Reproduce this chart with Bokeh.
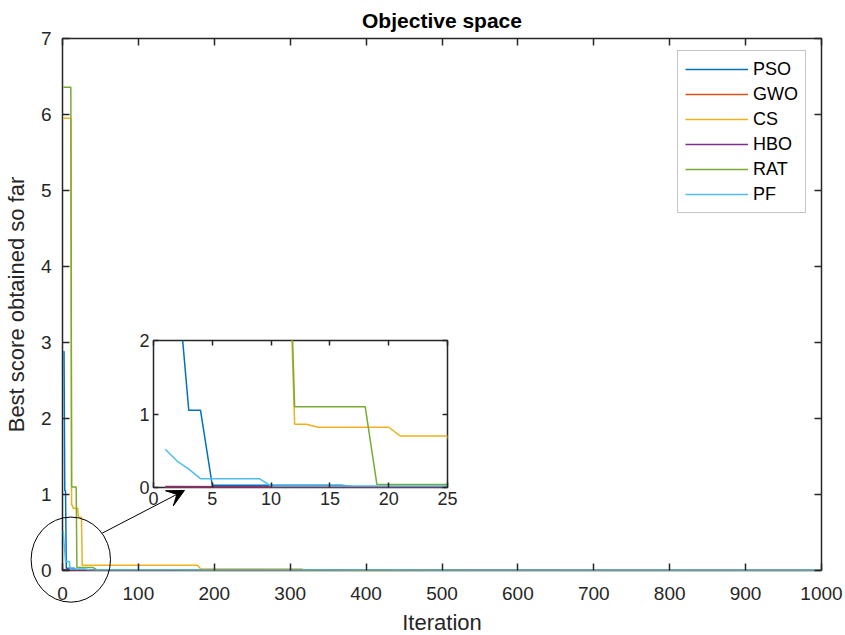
import numpy as np
from bokeh.plotting import figure
from bokeh.models import FixedTicker, LinearAxis, Legend, LegendItem, Arrow, VeeHead
from bokeh.embed import file_html
from bokeh.resources import INLINE

FONT = "Liberation Sans"
AX = "#262626"

# ---------------- data ----------------
names = ["PSO", "GWO", "CS", "HBO", "RAT", "PF"]
colors = ["#0072BD", "#D95319", "#EDB120", "#7E2F8E", "#77AC30", "#4DBEEE"]

pso_iter = [1, 2, 3, 4, 5, 16, 17, 60, 100, 1000]
pso_val = [2.88, 2.88, 1.05, 1.05, 0.03, 0.03, 0.01, 0.01, 0.003, 0.0]

gwo_iter = [1, 10, 1000]
gwo_val = [0.005, 0.003, 0.0]

cs_iter = [1, 11, 12, 13, 14, 20, 21, 25, 26, 178, 182, 315, 318, 375, 378, 1000]
cs_val = [5.95, 5.95, 0.86, 0.86, 0.82, 0.82, 0.70, 0.70, 0.07, 0.07, 0.02, 0.02, 0.01, 0.01, 0.0, 0.0]

hbo_iter = [1, 12, 1000]
hbo_val = [0.012, 0.008, 0.0]

rat_iter = [1, 11, 12, 18, 19, 40, 45, 150, 155, 1000]
rat_val = [6.36, 6.36, 1.10, 1.10, 0.04, 0.04, 0.01, 0.01, 0.004, 0.0]

pf_iter = [1, 2, 3, 4, 9, 10, 30, 35, 1000]
pf_val = [0.52, 0.36, 0.25, 0.12, 0.12, 0.02, 0.02, 0.006, 0.004]

series_iter = [pso_iter, gwo_iter, cs_iter, hbo_iter, rat_iter, pf_iter]
series_val = [pso_val, gwo_val, cs_val, hbo_val, rat_val, pf_val]

main_xticks = list(range(0, 1001, 100))
main_yticks = list(range(0, 8))
inset_xticks = [0, 5, 10, 15, 20, 25]
inset_yticks = [0, 1, 2]

# ---------------- layout constants (page pixels) ----------------
FR_W, FR_H = 759, 532
B_LEFT, B_RIGHT, B_TOP, B_BOTTOM = 61, 25, 37, 66
PAGE = 0
X0, X1, Y0, Y1 = 0, 1000, 0, 7
FR_LEFT = PAGE + B_LEFT          # screen x of frame left
FR_BOTTOM = PAGE + B_TOP + FR_H  # screen y of frame bottom
SX = FR_W / (X1 - X0)
SY = FR_H / (Y1 - Y0)


def style_axes(axes, tick_in, font_size):
    for ax in axes:
        ax.axis_line_color = None
        ax.major_tick_line_color = AX
        ax.major_tick_line_width = 1.5
        ax.major_tick_in = tick_in
        ax.major_tick_out = 0
        ax.minor_tick_line_color = None
        ax.major_label_text_font = FONT
        ax.major_label_text_font_size = font_size
        ax.major_label_text_color = AX
        ax.axis_label_text_font = FONT
        ax.axis_label_text_font_style = "normal"
        ax.axis_label_text_color = AX


def blank_axis(ax):
    ax.major_label_text_font_size = "1px"
    ax.major_label_text_color = None
    ax.major_label_standoff = 0


# ---------------- main figure ----------------
p = figure(frame_width=FR_W, frame_height=FR_H,
           min_border_left=B_LEFT, min_border_right=B_RIGHT,
           min_border_top=B_TOP, min_border_bottom=B_BOTTOM,
           x_range=(X0, X1), y_range=(Y0, Y1),
           output_backend="svg", toolbar_location=None,
           title="Objective space")
p.outline_line_color = AX
p.outline_line_width = 1.5
p.background_fill_color = "white"
p.border_fill_color = "white"
p.xgrid.visible = False
p.ygrid.visible = False

xb = p.below[0]
yl = p.left[0]
top_ax = LinearAxis()
right_ax = LinearAxis()
p.add_layout(top_ax, "above")
p.add_layout(right_ax, "right")
xb.ticker = FixedTicker(ticks=main_xticks)
top_ax.ticker = FixedTicker(ticks=main_xticks)
yl.ticker = FixedTicker(ticks=main_yticks)
right_ax.ticker = FixedTicker(ticks=main_yticks)
style_axes([xb, yl, top_ax, right_ax], 7, "19px")
blank_axis(top_ax)
blank_axis(right_ax)

xb.axis_label = "Iteration"
yl.axis_label = "Best score obtained so far"
xb.axis_label_text_font_size = "22px"
yl.axis_label_text_font_size = "22px"
xb.major_label_standoff = 16
xb.axis_label_standoff = 7
yl.major_label_standoff = 11
yl.axis_label_standoff = 9

p.title.text_font = FONT
p.title.text_font_size = "21px"
p.title.text_font_style = "bold"
p.title.text_color = "black"
p.title.align = "center"
p.title.standoff = 13

items = []
for nm, c, xi, yv in zip(names, colors, series_iter, series_val):
    r = p.line(x=xi, y=yv, line_color=c, line_width=1.5)
    items.append(LegendItem(label=nm, renderers=[r]))

legend = Legend(items=items, location=(615, 357),
                label_text_font=FONT, label_text_font_size="18px", label_text_color="black",
                glyph_width=63, glyph_height=22, label_height=22, label_standoff=5,
                spacing=3, padding=7, margin=0,
                border_line_color="#8c8c8c", border_line_width=1,
                background_fill_color="white", background_fill_alpha=1)
p.add_layout(legend, "center")

# ---------------- transparent overlay for the zoom marker (same data scale) ----------------
OV_L, OV_T, OV_W, OV_H = 20, 478, 180, 134
ov_x = ((OV_L - FR_LEFT) / SX, (OV_L + OV_W - FR_LEFT) / SX)
ov_y = ((FR_BOTTOM - (OV_T + OV_H)) / SY, (FR_BOTTOM - OV_T) / SY)
ov = figure(frame_width=OV_W, frame_height=OV_H, min_border=0,
            x_range=ov_x, y_range=ov_y,
            x_axis_location=None, y_axis_location=None,
            output_backend="svg", toolbar_location=None,
            styles={"position": "absolute", "left": f"{OV_L}px", "top": f"{OV_T}px"})
ov.outline_line_color = None
ov.background_fill_color = None
ov.border_fill_color = None
ov.xgrid.visible = False
ov.ygrid.visible = False

cx, cy, rx, ry = 12.25, 0.13, 52.3, 0.56
ov.ellipse(x=[cx], y=[cy], width=[2 * rx], height=[2 * ry],
           fill_color=None, line_color="black", line_width=1)
ov.add_layout(Arrow(x_start=53.6, y_start=0.478, x_end=162, y_end=1.04,
                    line_color="black", line_width=1,
                    end=VeeHead(size=17, fill_color="black", line_color="black")))

# ---------------- inset ----------------
IN_FL, IN_FT, IN_FW, IN_FH = 153, 340, 294, 147   # inset frame on screen
IB_L, IB_R, IB_T, IB_B = 22, 16, 12, 28
q = figure(frame_width=IN_FW, frame_height=IN_FH,
           min_border_left=IB_L, min_border_right=IB_R, min_border_top=IB_T, min_border_bottom=IB_B,
           x_range=(0, 25), y_range=(0, 2),
           output_backend="svg", toolbar_location=None,
           styles={"position": "absolute", "left": f"{IN_FL - IB_L}px", "top": f"{IN_FT - IB_T}px"})
q.border_fill_color = None
q.background_fill_color = "white"
q.outline_line_color = AX
q.outline_line_width = 1.5
q.xgrid.visible = False
q.ygrid.visible = False
qb = q.below[0]
ql = q.left[0]
qt = LinearAxis()
qr = LinearAxis()
q.add_layout(qt, "above")
q.add_layout(qr, "right")
qb.ticker = FixedTicker(ticks=inset_xticks)
qt.ticker = FixedTicker(ticks=inset_xticks)
ql.ticker = FixedTicker(ticks=inset_yticks)
qr.ticker = FixedTicker(ticks=inset_yticks)
style_axes([qb, ql, qt, qr], 5, "18px")
blank_axis(qt)
blank_axis(qr)
qb.major_label_standoff = 4
ql.major_label_standoff = 4
for c, xi, yv in zip(colors, series_iter, series_val):
    q.line(x=xi, y=yv, line_color=c, line_width=1.5)

open("out.html", "w").write(file_html([p, ov, q], INLINE))
